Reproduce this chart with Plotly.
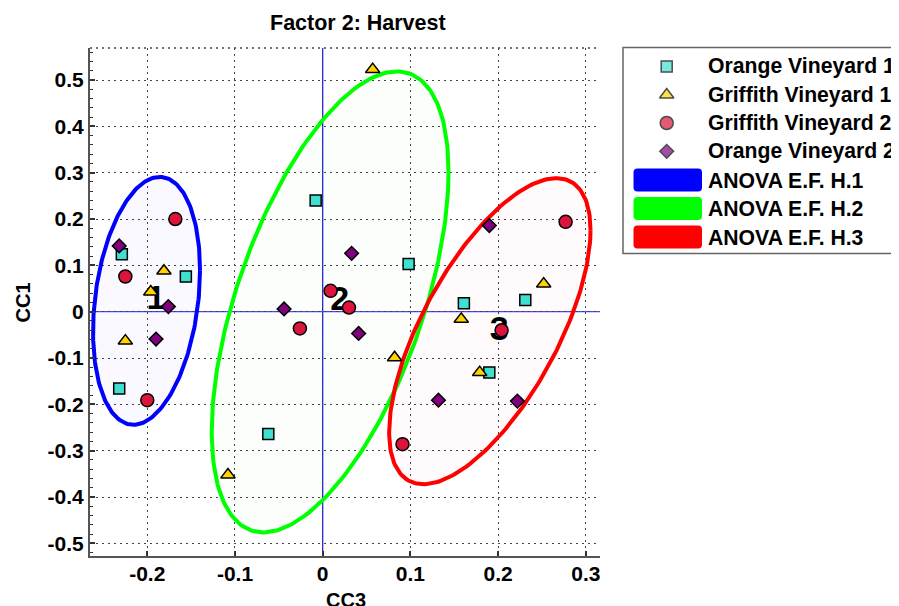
import numpy as np
import plotly.graph_objects as go

# page body has an 8px margin, so the figure is laid out in screen pixels minus that offset
OFF = 8
W, H = 899 - OFF, 606 - OFF

# ---------------- data (CC3 = x, CC1 = y) ----------------
orange1_cc3 = [-0.229, -0.156, -0.232, -0.008, -0.062, 0.098, 0.231, 0.161, 0.190]
orange1_cc1 = [0.124, 0.076, -0.166, 0.240, -0.264, 0.103, 0.025, 0.018, -0.131]
griffith1_cc3 = [-0.181, -0.196, -0.225, -0.108, 0.057, 0.082, 0.252, 0.158, 0.179]
griffith1_cc1 = [0.088, 0.043, -0.063, -0.352, 0.523, -0.099, 0.060, -0.016, -0.131]
griffith2_cc3 = [-0.168, -0.225, -0.200, -0.026, 0.009, 0.030, 0.277, 0.204, 0.091]
griffith2_cc1 = [0.200, 0.076, -0.191, -0.036, 0.045, 0.009, 0.194, -0.040, -0.286]
orange2_cc3 = [-0.232, -0.176, -0.190, -0.044, 0.033, 0.041, 0.190, 0.132, 0.222]
orange2_cc1 = [0.142, 0.011, -0.059, 0.006, 0.126, -0.047, 0.186, -0.191, -0.193]
harvest = [1, 1, 1, 2, 2, 2, 3, 3, 3]

series_names = ["Orange Vineyard 1", "Griffith Vineyard 1", "Griffith Vineyard 2", "Orange Vineyard 2"]
series_symbols = ["square", "triangle-up", "circle", "diamond"]
series_colors = ["#40E0D0", "#FFD200", "#DC143C", "#800080"]
series_sizes = [11, 12.5, 13, 10.5]

harvest_labels = ["1", "2", "3"]
ellipse_names = ["ANOVA E.F. H.1", "ANOVA E.F. H.2", "ANOVA E.F. H.3"]
ellipse_hx = [0.061, 0.135, 0.1148]
ellipse_hy = [0.2675, 0.4975, 0.3303]
ellipse_rho = [0.246, 0.563, 0.66]
ellipse_colors = ["#0000FF", "#00FF00", "#FF0000"]
ellipse_fills = ["rgba(0,0,255,0.022)", "rgba(0,200,0,0.015)", "rgba(255,0,60,0.018)"]

x_tick_vals = [-0.2, -0.1, 0, 0.1, 0.2, 0.3]
x_tick_text = ["-0.2", "-0.1", "0", "0.1", "0.2", "0.3"]
y_tick_vals = [-0.5, -0.4, -0.3, -0.2, -0.1, 0, 0.1, 0.2, 0.3, 0.4, 0.5]
y_tick_text = ["-0.5", "-0.4", "-0.3", "-0.2", "-0.1", "0", "0.1", "0.2", "0.3", "0.4", "0.5"]

all_x = [orange1_cc3, griffith1_cc3, griffith2_cc3, orange2_cc3]
all_y = [orange1_cc1, griffith1_cc1, griffith2_cc1, orange2_cc1]

FONT = "Liberation Sans, Arial, sans-serif"


def fx(px):
    return (px - OFF) / W


def fy(py):
    return 1 - (py - OFF) / H


fig = go.Figure()

# group centroids
xs = np.concatenate([np.array(a) for a in all_x])
ys = np.concatenate([np.array(a) for a in all_y])
hs = np.array(harvest * 4)
cent_x = [xs[hs == k].mean() for k in (1, 2, 3)]
cent_y = [ys[hs == k].mean() for k in (1, 2, 3)]

# ellipses
t = np.linspace(0, 2 * np.pi, 241)
for i in range(3):
    ex = cent_x[i] + ellipse_hx[i] * np.cos(t)
    ey = cent_y[i] + ellipse_hy[i] * (ellipse_rho[i] * np.cos(t) + np.sqrt(1 - ellipse_rho[i] ** 2) * np.sin(t))
    fig.add_trace(go.Scatter(x=ex, y=ey, mode="lines", fill="toself",
                             fillcolor=ellipse_fills[i],
                             line=dict(color=ellipse_colors[i], width=4),
                             hoverinfo="skip", showlegend=False))

# group labels
fig.add_trace(go.Scatter(x=cent_x, y=cent_y, mode="text", text=harvest_labels,
                         textposition="middle right",
                         textfont=dict(family=FONT, size=34, color="black", weight="bold"),
                         marker=dict(size=1), showlegend=False, hoverinfo="skip"))

# markers
for i in range(4):
    fig.add_trace(go.Scatter(x=all_x[i], y=all_y[i], mode="markers", name=series_names[i],
                             marker=dict(symbol=series_symbols[i], size=series_sizes[i],
                                         color=series_colors[i],
                                         line=dict(color="black", width=1.5)),
                             showlegend=False))

# ---------------- manual legend ----------------
leg_y = [66.5, 94.8, 123.0, 151.3, 180.0, 208.5, 237.0]
leg_marker_x = 666.7
fig.add_trace(go.Scatter(x=[leg_marker_x] * 4, y=leg_y[:4], mode="markers",
                         marker=dict(symbol=series_symbols, size=series_sizes,
                                     color=series_colors, line=dict(color="black", width=1.5)),
                         xaxis="x2", yaxis="y2", showlegend=False, hoverinfo="skip"))

shapes = []
shapes.append(dict(type="rect", xref="paper", yref="paper",
                   x0=fx(623), x1=fx(915), y0=fy(253.5), y1=fy(47.5),
                   line=dict(color="#666666", width=1.5), fillcolor="white", layer="below"))


def rounded_bar(x0, x1, yc, h, r):
    y0p, y1p = yc - h / 2, yc + h / 2
    pts = [
        f"M{fx(x0 + r)},{fy(y0p)}",
        f"L{fx(x1 - r)},{fy(y0p)}",
        f"Q{fx(x1)},{fy(y0p)} {fx(x1)},{fy(y0p + r)}",
        f"L{fx(x1)},{fy(y1p - r)}",
        f"Q{fx(x1)},{fy(y1p)} {fx(x1 - r)},{fy(y1p)}",
        f"L{fx(x0 + r)},{fy(y1p)}",
        f"Q{fx(x0)},{fy(y1p)} {fx(x0)},{fy(y1p - r)}",
        f"L{fx(x0)},{fy(y0p + r)}",
        f"Q{fx(x0)},{fy(y0p)} {fx(x0 + r)},{fy(y0p)}",
        "Z",
    ]
    return " ".join(pts)


for i in range(3):
    shapes.append(dict(type="path", xref="paper", yref="paper",
                       path=rounded_bar(633.5, 702, leg_y[4 + i], 23, 4),
                       fillcolor=ellipse_colors[i], line=dict(width=0)))

# top dotted border of plot area
shapes.append(dict(type="line", xref="paper", yref="paper",
                   x0=fx(90), x1=fx(600), y0=fy(48), y1=fy(48),
                   line=dict(color="#444444", width=1.3, dash="2px,4px")))

# blue reference lines through the origin (between grid and data)
shapes.append(dict(type="line", xref="x", yref="paper", x0=0, x1=0,
                   y0=fy(556), y1=fy(48), layer="between",
                   line=dict(color="rgb(30,30,255)", width=1.3)))
shapes.append(dict(type="line", xref="paper", yref="y", x0=fx(90), x1=fx(600),
                   y0=0, y1=0, layer="between",
                   line=dict(color="rgb(70,70,255)", width=1.3)))

annotations = []
leg_texts = series_names + ellipse_names
for i, txt in enumerate(leg_texts):
    annotations.append(dict(text=txt, xref="paper", yref="paper", x=fx(706), y=fy(leg_y[i]),
                            xanchor="left", yanchor="middle", showarrow=False,
                            font=dict(family=FONT, size=21.2, color="black", weight="bold")))

annotations.append(dict(text="Factor 2: Harvest", xref="paper", yref="paper", x=fx(358), y=fy(23),
                        xanchor="center", yanchor="middle", showarrow=False,
                        font=dict(family=FONT, size=21.5, color="black", weight="bold")))
annotations.append(dict(text="CC1", xref="paper", yref="paper", x=fx(22.5), y=fy(302),
                        xanchor="center", yanchor="middle", showarrow=False, textangle=-90,
                        font=dict(family=FONT, size=20, color="black", weight="bold")))
annotations.append(dict(text="CC3", xref="paper", yref="paper", x=fx(346), y=fy(600),
                        xanchor="center", yanchor="middle", showarrow=False,
                        font=dict(family=FONT, size=20, color="black", weight="bold")))

grid_common = dict(showgrid=True, gridcolor="#444444", gridwidth=1.3, griddash="2px,4px",
                   zeroline=False,
                   showline=True, linecolor="#555555", linewidth=2,
                   ticks="inside", ticklen=5, tickcolor="#333333", tickwidth=1.5,
                   tickfont=dict(family=FONT, size=21, color="black", weight="bold"),
                   automargin=False, fixedrange=True)

fig.update_layout(
    width=W, height=H,
    margin=dict(l=0, r=0, t=0, b=0, pad=0),
    paper_bgcolor="white", plot_bgcolor="white",
    showlegend=False,
    xaxis=dict(domain=[fx(90), fx(600)], range=[-0.2653, 0.3162], tickmode="array",
               tickvals=x_tick_vals, ticktext=x_tick_text, anchor="y",
               ticklabelstandoff=-2, **grid_common),
    yaxis=dict(domain=[fy(556), fy(48)], range=[-0.5273, 0.5692], tickmode="array",
               tickvals=y_tick_vals, ticktext=y_tick_text, anchor="x",
               minor=dict(dtick=0.02, tick0=0, ticks="inside", ticklen=3, tickcolor="#333333",
                          tickwidth=1.3, showgrid=False),
               **grid_common),
    xaxis2=dict(domain=[fx(623), 1.0], range=[623, 899], visible=False, anchor="y2", fixedrange=True),
    yaxis2=dict(domain=[fy(254), fy(47)], range=[254, 47], visible=False, anchor="x2", fixedrange=True),
    shapes=shapes,
    annotations=annotations,
)

fig.write_html("out.html")
